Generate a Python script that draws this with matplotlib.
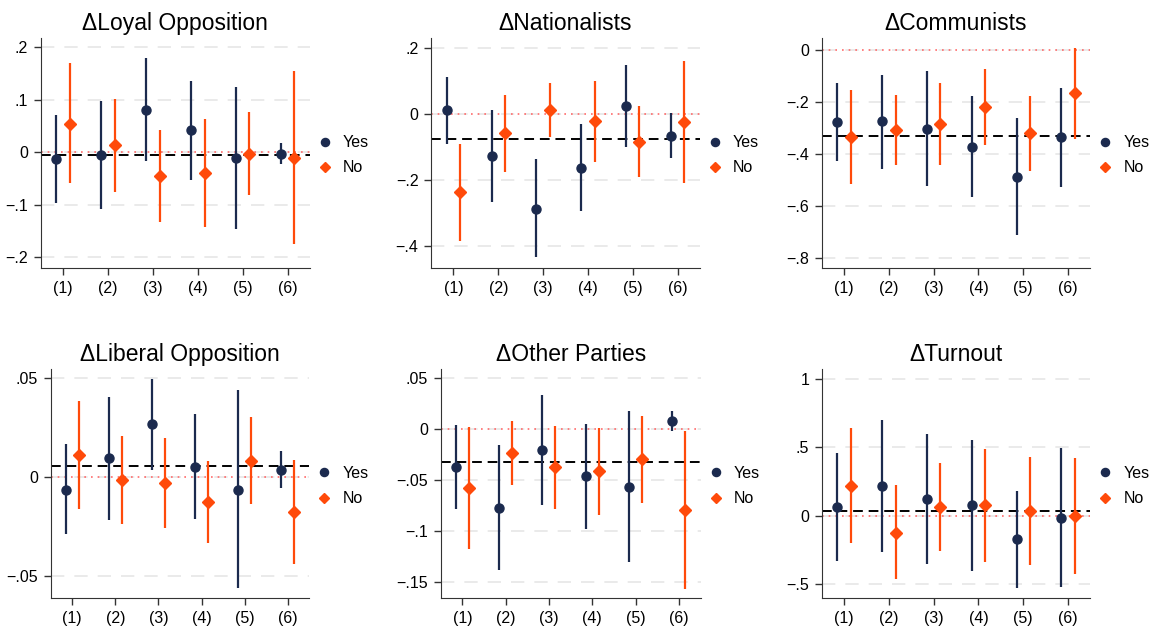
import matplotlib
matplotlib.use("Agg")
import matplotlib.pyplot as plt
import numpy as np

plt.rcParams['font.family'] = ['Liberation Sans', 'DejaVu Sans']

models = ['(1)', '(2)', '(3)', '(4)', '(5)', '(6)']
titles = ['\u0394Loyal Opposition', '\u0394Nationalists', '\u0394Communists',
          '\u0394Liberal Opposition', '\u0394Other Parties', '\u0394Turnout']

# point estimates and 95% CI bounds, "Yes" group
yes_est = [
    [-0.0125, -0.0055, 0.0817, 0.0422, -0.0106, -0.0023],
    [0.010, -0.129, -0.288, -0.165, 0.024, -0.067],
    [-0.278, -0.274, -0.3035, -0.372, -0.4875, -0.336],
    [-0.0062, 0.0096, 0.0268, 0.0054, -0.0062, 0.0039],
    [-0.0372, -0.0772, -0.0202, -0.0464, -0.0566, 0.0084],
    [0.064, 0.215, 0.122, 0.076, -0.172, -0.016],
]
yes_lo = [
    [-0.096, -0.108, -0.0163, -0.052, -0.145, -0.022],
    [-0.093, -0.268, -0.436, -0.296, -0.100, -0.136],
    [-0.428, -0.458, -0.5235, -0.567, -0.714, -0.526],
    [-0.0288, -0.0215, 0.0035, -0.0209, -0.056, -0.0056],
    [-0.0789, -0.1385, -0.0743, -0.0982, -0.1307, -0.0021],
    [-0.3275, -0.2667, -0.3542, -0.4004, -0.5284, -0.522],
]
yes_hi = [
    [0.0715, 0.098, 0.180, 0.1365, 0.124, 0.0174],
    [0.112, 0.011, -0.138, -0.033, 0.147, 0.003],
    [-0.127, -0.094, -0.081, -0.176, -0.261, -0.144],
    [0.0167, 0.0407, 0.0498, 0.0318, 0.0441, 0.0135],
    [0.0041, -0.0156, 0.0336, 0.0054, 0.0179, 0.018],
    [0.458, 0.696, 0.596, 0.553, 0.183, 0.497],
]

# "No" group
no_est = [
    [0.055, 0.0136, -0.045, -0.0386, -0.0023, -0.0106],
    [-0.239, -0.0596, 0.011, -0.024, -0.086, -0.027],
    [-0.334, -0.306, -0.2855, -0.220, -0.320, -0.1646],
    [0.0113, -0.0013, -0.0029, -0.0125, 0.0084, -0.0175],
    [-0.0575, -0.0234, -0.0375, -0.0411, -0.0297, -0.0795],
    [0.2196, -0.1233, 0.064, 0.076, 0.0372, 0.0007],
]
no_lo = [
    [-0.058, -0.075, -0.1333, -0.1416, -0.0812, -0.1747],
    [-0.385, -0.176, -0.0707, -0.146, -0.193, -0.210],
    [-0.517, -0.441, -0.442, -0.365, -0.4656, -0.341],
    [-0.0162, -0.0234, -0.0258, -0.0333, -0.0136, -0.0436],
    [-0.1179, -0.0549, -0.0785, -0.0841, -0.073, -0.1569],
    [-0.1962, -0.4637, -0.2594, -0.3397, -0.3589, -0.4248],
]
no_hi = [
    [0.170, 0.1027, 0.0435, 0.0645, 0.0766, 0.155],
    [-0.092, 0.0566, 0.093, 0.099, 0.023, 0.158],
    [-0.153, -0.171, -0.127, -0.072, -0.1775, 0.009],
    [0.0387, 0.0207, 0.020, 0.0082, 0.0305, 0.0088],
    [0.0021, 0.0084, 0.0031, 0.0011, 0.013, -0.0021],
    [0.640, 0.2244, 0.3849, 0.4893, 0.4311, 0.4238],
]

# dashed reference line (mean effect)
mean_line = [-0.0055, -0.078, -0.3305, 0.0056, -0.0323, 0.0323]

yticks = [
    [0.2, 0.1, 0, -0.1, -0.2],
    [0.2, 0, -0.2, -0.4],
    [0, -0.2, -0.4, -0.6, -0.8],
    [0.05, 0, -0.05],
    [0.05, 0, -0.05, -0.1, -0.15],
    [1, 0.5, 0, -0.5],
]
yticklabels = [
    ['.2', '.1', '0', '\u2212.1', '\u2212.2'],
    ['.2', '0', '\u2212.2', '\u2212.4'],
    ['0', '\u2212.2', '\u2212.4', '\u2212.6', '\u2212.8'],
    ['.05', '0', '\u2212.05'],
    ['.05', '0', '\u2212.05', '\u2212.1', '\u2212.15'],
    ['1', '.5', '0', '\u2212.5'],
]
ylims = [(-0.220, 0.218), (-0.468, 0.229), (-0.840, 0.047),
         (-0.0611, 0.0545), (-0.1663, 0.0589), (-0.602, 1.068)]

navy = '#1b2a4e'
orange = '#ff4a0a'

fig = plt.figure(figsize=(11.56, 6.32), dpi=100)
W, H = 1156, 632
# axes boxes in pixels: left, top, right, bottom
boxes = [
    (40.7, 38, 310, 268), (431, 38, 700, 268), (821.7, 38, 1090.4, 268),
    (50.7, 369.3, 309.3, 598.3), (440.7, 369.3, 700.6, 598.3), (821.7, 369.3, 1090.4, 598.3),
]

x = np.arange(1, 7)
off = 0.15
for i in range(6):
    l, t, r, b = boxes[i]
    ax = fig.add_axes([l / W, (H - b) / H, (r - l) / W, (b - t) / H])
    ax.set_xlim(0.5, 6.5)
    ax.set_ylim(*ylims[i])
    for yv in yticks[i]:
        ax.axhline(yv, color='#e6e6e6', lw=1.2, ls=(0, (8, 6)), zorder=0)
    ax.axhline(0, color='#ff6b6b', lw=1.2, ls=(0, (1, 3)), zorder=1)
    ax.axhline(mean_line[i], color='black', lw=1.4, ls=(0, (5, 3)), zorder=2)

    ye = np.array(yes_est[i])
    ax.vlines(x - off, yes_lo[i], yes_hi[i], color=navy, lw=1.6, zorder=3)
    ax.plot(x - off, ye, 'o', color=navy, ms=6.5, zorder=4, label='Yes')
    ne = np.array(no_est[i])
    ax.vlines(x + off, no_lo[i], no_hi[i], color=orange, lw=1.6, zorder=3)
    ax.plot(x + off, ne, 'D', color=orange, ms=6, zorder=4, label='No')

    ax.set_xticks(x)
    ax.set_xticklabels(models, fontsize=11.5)
    ax.set_yticks(yticks[i])
    ax.set_yticklabels(yticklabels[i], fontsize=11.5)
    ax.tick_params(axis='both', length=5, width=1, color='#333333', pad=4)
    ax.spines['top'].set_visible(False)
    ax.spines['right'].set_visible(False)
    ax.spines['left'].set_color('#333333')
    ax.spines['bottom'].set_color('#333333')
    ax.set_title(titles[i], fontsize=16.5, pad=6)
    ax.legend(loc='center left', bbox_to_anchor=(1.0, 0.49), frameon=False,
              fontsize=11.5, handletextpad=0.6, labelspacing=0.65,
              borderaxespad=0.0, handlelength=1.07, markerscale=0.9)

fig.savefig('out.png', dpi=100)
